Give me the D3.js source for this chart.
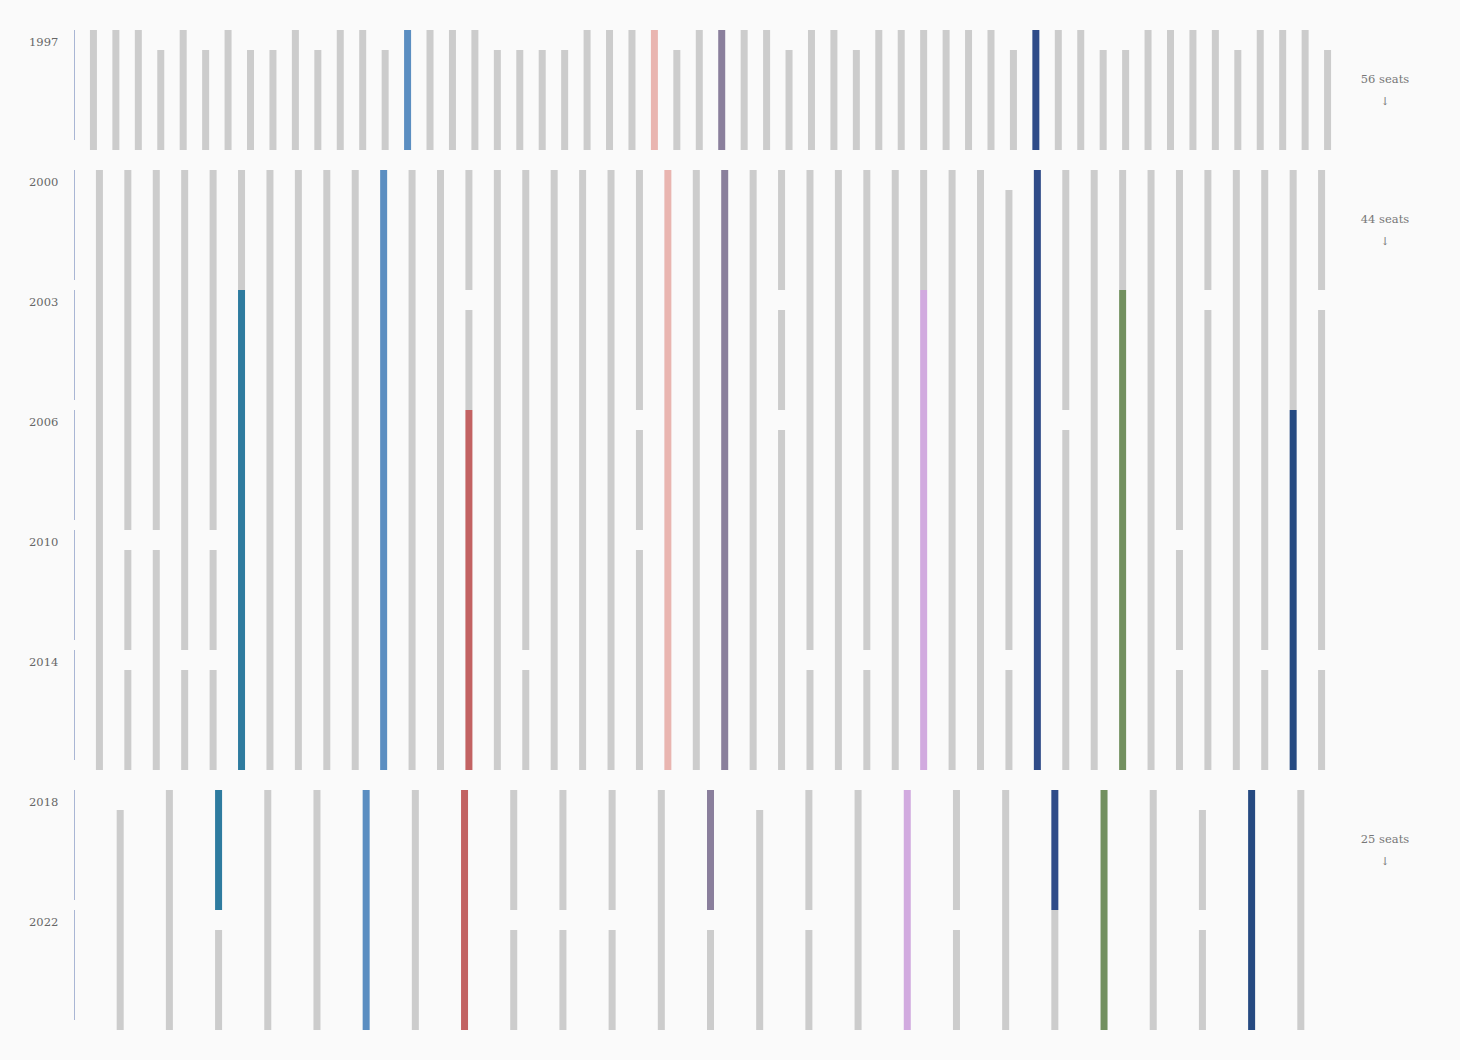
<!DOCTYPE html>
<html>
<head>
<meta charset="utf-8">
<script src="https://cdn.jsdelivr.net/npm/d3@7"></script>
<style>
  html, body { margin: 0; padding: 0; background: #fafafa; }
  text { font-family: "DejaVu Serif", serif; }
</style>
</head>
<body>
<svg id="chart" width="1460" height="1060"></svg>
<script>
// ---- data ----
// Seat counts per parliament block
const blockSeats = [56, 44, 25];
// Election years in each block
const blockYears = [
  ["1997"],
  ["2000", "2003", "2006", "2010", "2014"],
  ["2018", "2022"]
];
// Seat states per election: "." = returning member (grey), "n" = newly elected (grey),
// capital letters = tracked individual (colour key below)
const rows1997 = [
  "...n.n.nn.n..nB...nnnn...Pn.V..n..n......nN..nn....n...n"
];
const rows2000 = [
  "..........B.........P.V.........nN.........." ,
  ".....T....B..n......P.V.n....L...N..G..n...n",
  ".....T....B..R.....nP.V.n....L...Nn.G.....M.",
  ".nn.nT....B..R.....nP.V......L...N..G.n...M.",
  ".n.nnT....B..R.n....P.V..n.n.L..nN..G.n..nMn"
];
const rows2018 = [
  "n.T..B.R....Vn..L..NG.nM.",
  "..n..B.Rnnn.n.n.Ln..G.nM."
];
const blockRows = [rows1997, rows2000, rows2018];
const seatLabels = blockSeats.map(d => d + " seats");
const colorKeys = [".", "n", "B", "P", "V", "N", "T", "R", "L", "G", "M"];
const colorValues = ["#cccccc", "#cccccc", "#5b8ec1", "#e9b5b0", "#8a7f9c", "#2f4b88",
                     "#2e7b9f", "#c26262", "#d1aadf", "#72905f", "#264a81"];

// ---- layout ----
const svg = d3.select("#chart");
const rowH = 120, blockGap = 20, topY = 30, newGap = 20, barW = 7;
const color = d3.scaleOrdinal().domain(colorKeys).range(colorValues);

let cursor = topY;
blockRows.forEach((rows, b) => {
  const n = blockSeats[b];
  const years = blockYears[b];
  const top = cursor;
  const y = d3.scaleBand().domain(years).range([top, top + rowH * years.length]).padding(0);
  const x = d3.scalePoint().domain(d3.range(n)).range([71, 1350]).padding(1);
  const g = svg.append("g");

  years.forEach((yr, r) => {
    const y0 = y(yr);
    // left axis segment per election row
    g.append("line")
      .attr("x1", 74.5).attr("x2", 74.5)
      .attr("y1", y0).attr("y2", y0 + 110)
      .attr("stroke", "#a9b6d4").attr("stroke-width", 1);
    // year label
    g.append("text")
      .attr("x", 29).attr("y", y0 + 15.8)
      .attr("font-size", 11.5).attr("fill", "#666")
      .text(yr);
    // bars
    const cells = rows[r].split("").map((c, i) => ({ c, i }));
    g.selectAll(null).data(cells).join("rect")
      .attr("x", d => x(d.i) - barW / 2)
      .attr("width", barW)
      .attr("y", d => y0 + (d.c === "n" ? newGap : 0))
      .attr("height", d => y.bandwidth() - (d.c === "n" ? newGap : 0))
      .attr("fill", d => color(d.c));
  });

  // seats label + arrow
  g.append("text")
    .attr("x", 1385).attr("y", top + 52.5)
    .attr("text-anchor", "middle")
    .attr("font-size", 11.5).attr("fill", "#777")
    .text(seatLabels[b]);
  g.append("text")
    .attr("x", 1385).attr("y", top + 74.5)
    .attr("text-anchor", "middle")
    .attr("font-family", "DejaVu Sans")
    .attr("font-size", 11).attr("fill", "#777")
    .text("↓");

  cursor = top + rowH * years.length + blockGap;
});
</script>
</body>
</html>
